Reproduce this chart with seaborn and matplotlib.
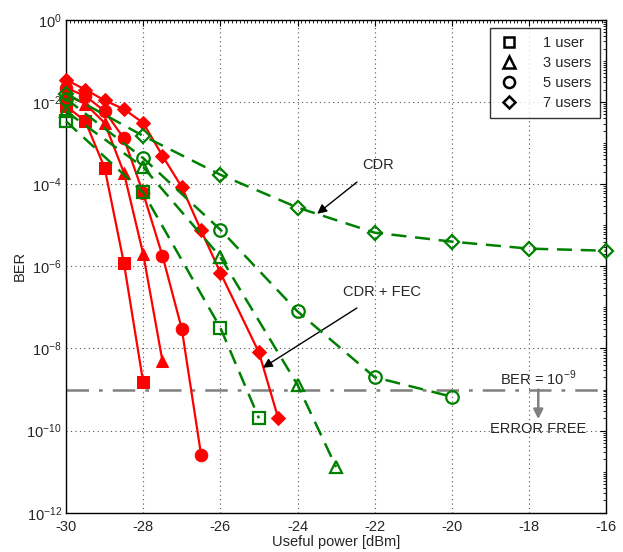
import numpy as np
import pandas as pd
import matplotlib
matplotlib.use("Agg")
import matplotlib.pyplot as plt
import seaborn as sns
from matplotlib.lines import Line2D
from matplotlib.ticker import LogLocator, MultipleLocator, NullFormatter

sns.set_style("white")
plt.rcParams['font.family'] = ['Liberation Sans', 'DejaVu Sans']
plt.rcParams['mathtext.fontset'] = 'custom'
plt.rcParams['mathtext.rm'] = 'Liberation Sans'
plt.rcParams['axes.unicode_minus'] = False

# ---- data ----
# CDR + FEC (red, filled)
fec_1_x = [-30, -29.5, -29, -28.5, -28]
fec_1_y = [8e-3, 3.4e-3, 2.5e-4, 1.2e-6, 1.5e-9]
fec_3_x = [-30, -29.5, -29, -28.5, -28, -27.5]
fec_3_y = [1.5e-2, 9e-3, 3.1e-3, 1.9e-4, 2e-6, 4.9e-9]
fec_5_x = [-30, -29.5, -29, -28.5, -28, -27.5, -27, -26.5]
fec_5_y = [2.2e-2, 1.4e-2, 6e-3, 1.3e-3, 6e-5, 1.8e-6, 3e-8, 2.6e-11]
fec_7_x = [-30, -29.5, -29, -28.5, -28, -27.5, -27, -26.5, -26, -25, -24.5]
fec_7_y = [3.5e-2, 2e-2, 1.1e-2, 6.7e-3, 3.1e-3, 4.9e-4, 8.5e-5, 7.5e-6, 7e-7, 8e-9, 2e-10]

# CDR only (green, open)
cdr_1_x = [-30, -28, -26, -25]
cdr_1_y = [3.4e-3, 6.3e-5, 3.2e-8, 2e-10]
cdr_3_x = [-30, -28, -26, -24, -23]
cdr_3_y = [5.9e-3, 2.6e-4, 1.7e-6, 1.3e-9, 1.3e-11]
cdr_5_x = [-30, -28, -26, -24, -22, -20]
cdr_5_y = [1.2e-2, 4.3e-4, 7.8e-6, 8e-8, 2e-9, 6.7e-10]
cdr_7_x = [-30, -28, -26, -24, -22, -20, -18, -16]
cdr_7_y = [1.6e-2, 1.5e-3, 1.7e-4, 2.7e-5, 6.6e-6, 4e-6, 2.7e-6, 2.4e-6]

user_labels = ['1 user', '3 users', '5 users', '7 users']
markers = ['s', '^', 'o', 'D']
ber_limit = 1e-9

fig = plt.figure(figsize=(6.23, 5.52), dpi=100)
ax = fig.add_axes([0.106, 0.071, 0.867, 0.893])

red = '#ff0000'
green = '#008000'
msizes = {'s': 8, '^': 9, 'o': 9, 'D': 7.5}

fec = [(fec_1_x, fec_1_y), (fec_3_x, fec_3_y), (fec_5_x, fec_5_y), (fec_7_x, fec_7_y)]
cdr = [(cdr_1_x, cdr_1_y), (cdr_3_x, cdr_3_y), (cdr_5_x, cdr_5_y), (cdr_7_x, cdr_7_y)]

for (x, y), m in zip(fec, markers):
    sns.lineplot(x=x, y=y, ax=ax, color=red, marker=m, markersize=msizes[m],
                 markerfacecolor=red, markeredgecolor=red, linewidth=1.6,
                 estimator=None, sort=False, zorder=3, clip_on=False)
for (x, y), m in zip(cdr, markers):
    sns.lineplot(x=x, y=y, ax=ax, color=green, marker=m, markersize=msizes[m],
                 markerfacecolor='none', markeredgecolor=green, markeredgewidth=1.6,
                 linewidth=1.8, dashes=(6, 3.5), estimator=None, sort=False, zorder=4,
                 clip_on=False)

# BER limit line
ax.axhline(ber_limit, color='#808080', linewidth=1.8, dashes=(9, 4, 1.5, 4), zorder=2)

ax.set_yscale('log')
ax.set_xlim(-30, -16)
ax.set_ylim(1e-12, 1)
ax.xaxis.set_major_locator(MultipleLocator(2))
ax.xaxis.set_minor_locator(MultipleLocator(0.1))
ax.set_yticks([1e0, 1e-2, 1e-4, 1e-6, 1e-8, 1e-10, 1e-12])
ax.yaxis.set_minor_locator(LogLocator(base=10, subs=np.arange(1, 10), numticks=30))
ax.yaxis.set_minor_formatter(NullFormatter())

ax.grid(True, which='major', linestyle=(0, (1, 3)), color='#555555', linewidth=0.8)
ax.tick_params(which='both', direction='in', top=True, right=True, labelsize=10.5,
               color='black')
ax.tick_params(which='major', length=4)
ax.tick_params(which='minor', length=2)
ax.tick_params(axis='x', pad=5)
ax.tick_params(axis='y', pad=3)
for s in ax.spines.values():
    s.set_color('black')
    s.set_linewidth(1.0)

ax.set_xlabel('Useful power [dBm]', fontsize=10.5, labelpad=1)
ax.set_ylabel('BER', fontsize=10.5, labelpad=0)

# annotations
ax.annotate('CDR', xy=(-23.49, 10**-4.72), xytext=(-21.9, 10**-3.53),
            fontsize=10.5, ha='center', va='center',
            arrowprops=dict(arrowstyle='-|>', color='black', lw=1.0,
                            shrinkA=8, shrinkB=0, mutation_scale=14))
ax.annotate('CDR + FEC', xy=(-24.9, 10**-8.47), xytext=(-21.8, 10**-6.62),
            fontsize=10.5, ha='center', va='center',
            arrowprops=dict(arrowstyle='-|>', color='black', lw=1.0,
                            shrinkA=8, shrinkB=0, mutation_scale=14))
ax.text(-17.76, 10**-8.72, 'BER = 10$^{-9}$', fontsize=10.5, ha='center', va='center')
ax.annotate('', xy=(-17.76, 10**-9.72), xytext=(-17.76, 1e-9),
            arrowprops=dict(arrowstyle='-|>', color='#808080', lw=1.8,
                            shrinkA=0, shrinkB=0, mutation_scale=14))
ax.text(-17.76, 10**-9.96, 'ERROR FREE', fontsize=10.5, ha='center', va='center')

handles = [Line2D([], [], linestyle='none', marker=m, markersize=msizes[m] - 1,
                  markerfacecolor='none', markeredgecolor='black', markeredgewidth=1.8)
           for m in markers]
leg = ax.legend(handles, user_labels, loc='upper right', bbox_to_anchor=(0.996, 0.992),
                fontsize=10.5, frameon=True, fancybox=False, edgecolor='black',
                handlelength=1.5, handletextpad=1.6, labelspacing=0.4, borderpad=0.55,
                borderaxespad=0.3)
leg.get_frame().set_linewidth(1.0)

fig.savefig('out.png', dpi=100)
